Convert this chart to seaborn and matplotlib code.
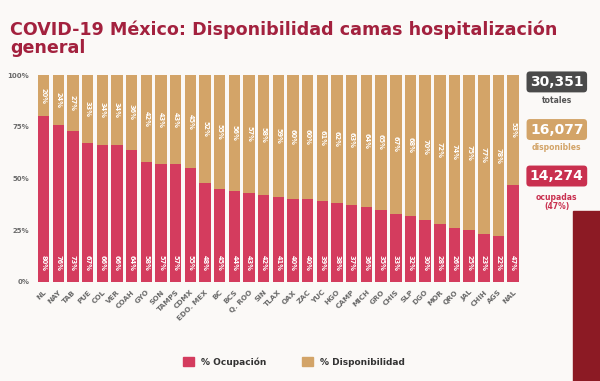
import pandas as pd
import matplotlib.pyplot as plt
import seaborn as sb
from matplotlib.patches import Patch, Rectangle

estados = ['NL', 'NAY', 'TAB', 'PUE', 'COL', 'VER', 'COAH', 'GYO', 'SON', 'TAMPS', 'CDMX',
           'EDO. MEX', 'BC', 'BCS', 'Q. ROO', 'SIN', 'TLAX', 'OAX', 'ZAC', 'YUC', 'HGO',
           'CAMP', 'MICH', 'GRO', 'CHIS', 'SLP', 'DGO', 'MOR', 'QRO', 'JAL', 'CHIH', 'AGS', 'NAL']
ocupacion = [80, 76, 73, 67, 66, 66, 64, 58, 57, 57, 55,
             48, 45, 44, 43, 42, 41, 40, 40, 39, 38,
             37, 36, 35, 33, 32, 30, 28, 26, 25, 23, 22, 47]
disponibilidad = [20, 24, 27, 33, 34, 34, 36, 42, 43, 43, 45,
                  52, 55, 56, 57, 58, 59, 60, 60, 61, 62,
                  63, 64, 65, 67, 68, 70, 72, 74, 75, 77, 78, 53]
yticks = [0, 25, 50, 75, 100]

totales = '30,351'
disponibles = '16,077'
ocupadas = '14,274'
pct_ocupadas = '(47%)'

rojo = '#d43c5e'
tan = '#d3a468'
guinda = '#a3213e'
gris = '#6a6a6a'
fondo = '#fbf9f7'

df = pd.DataFrame({'estado': estados, 'ocup': ocupacion, 'disp': disponibilidad})
df['total'] = df['ocup'] + df['disp']

fig = plt.figure(figsize=(6, 3.81), dpi=100, facecolor=fondo)
ax = fig.add_axes([0.058, 0.26, 0.812, 0.543])
ax.set_facecolor(fondo)

sb.barplot(data=df, x='estado', y='total', color=tan, width=0.78, saturation=1, ax=ax)
sb.barplot(data=df, x='estado', y='ocup', color=rojo, width=0.78, saturation=1, ax=ax)

# etiquetas dentro de las barras
for i, row in df.iterrows():
    ax.text(i, 9, f"{row['ocup']}%", rotation=270, ha='center', va='center',
            color='white', fontsize=4.8, fontweight='bold')
    ax.text(i, row['ocup'] + row['disp'] / 2, f"{row['disp']}%", rotation=270,
            ha='center', va='center', color='white', fontsize=4.8, fontweight='bold')

ax.set_ylim(0, 100)
ax.set_xlim(-0.6, len(estados) - 0.4)
ax.set_yticks(yticks)
ax.set_yticklabels([f'{v}%' for v in yticks], fontsize=5, fontweight='bold', color=gris)
ax.set_xticks(range(len(estados)))
ax.set_xticklabels(estados, rotation=45, ha='right', rotation_mode='anchor',
                   fontsize=5.2, fontweight='bold', color=gris)
ax.tick_params(axis='x', length=0, pad=5)
ax.tick_params(axis='y', length=0, pad=4)
ax.set_xlabel('')
ax.set_ylabel('')
sb.despine(ax=ax, left=True, bottom=True)

fig.text(0.017, 0.898, 'COVID-19 México: Disponibilidad camas hospitalización\ngeneral',
         fontsize=12.6, fontweight='bold', color=guinda, va='center', ha='left', linespacing=0.95)

# leyenda
handles = [Patch(color=rojo, label='% Ocupación'), Patch(color=tan, label='% Disponibilidad')]
fig.legend(handles=handles, loc='center', bbox_to_anchor=(0.49, 0.05), ncol=2, frameon=False,
           prop={'size': 6.5, 'weight': 'bold'}, handlelength=1.2, handleheight=1.2,
           columnspacing=4, labelcolor='#333333')

# cuadros de totales
box = dict(boxstyle='round,pad=0.25', ec='none')
fig.text(0.928, 0.785, totales, fontsize=10, fontweight='bold', color='white',
         ha='center', va='center', bbox={**box, 'fc': '#4a4a4a'})
fig.text(0.928, 0.737, 'totales', fontsize=5.5, fontweight='bold', color='#555555', ha='center', va='center')
fig.text(0.928, 0.66, disponibles, fontsize=10, fontweight='bold', color='white',
         ha='center', va='center', bbox={**box, 'fc': tan})
fig.text(0.928, 0.612, 'disponibles', fontsize=5.5, fontweight='bold', color=tan, ha='center', va='center')
fig.text(0.928, 0.538, ocupadas, fontsize=10, fontweight='bold', color='white',
         ha='center', va='center', bbox={**box, 'fc': '#c9304f'})
fig.text(0.928, 0.47, 'ocupadas\n' + pct_ocupadas, fontsize=5.5, fontweight='bold', color='#c9304f',
         ha='center', va='center', linespacing=1.1)

fig.patches.append(Rectangle((0.955, 0.0), 0.045, 0.445, transform=fig.transFigure,
                             color='#8c1a24', zorder=0))

plt.savefig('out.png', dpi=100, facecolor=fondo)
